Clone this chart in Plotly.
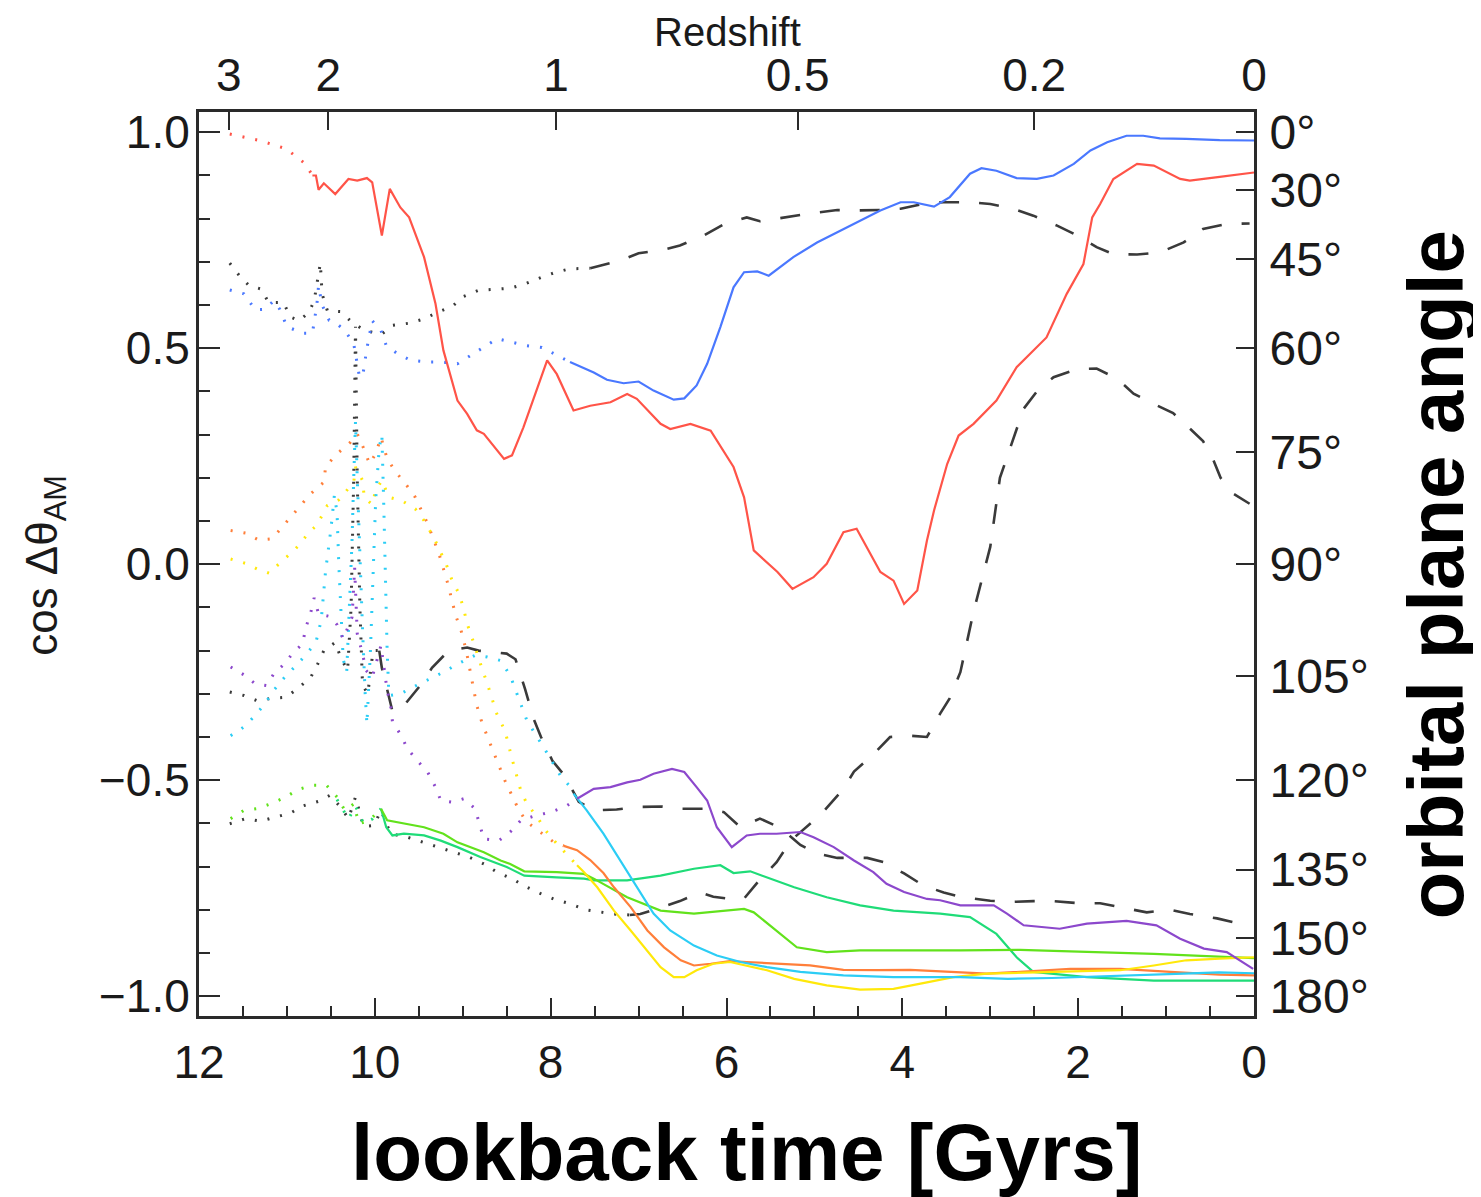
import numpy as np
import plotly.graph_objects as go

# ---------------- data (lookback time [Gyr], cos dtheta) ----------------
red = [(11.65, 0.996), (11.31, 0.981), (11.01, 0.962), (10.79, 0.927), (10.71, 0.90),
       (10.67, 0.90), (10.64, 0.867), (10.58, 0.882), (10.45, 0.857), (10.30, 0.892),
       (10.20, 0.888), (10.09, 0.894), (10.03, 0.884), (9.92, 0.761), (9.83, 0.869),
       (9.71, 0.826), (9.61, 0.803), (9.44, 0.711), (9.31, 0.603), (9.22, 0.495),
       (9.06, 0.379), (8.95, 0.348), (8.84, 0.31), (8.76, 0.302), (8.53, 0.244),
       (8.44, 0.252), (8.31, 0.317), (8.20, 0.379), (8.04, 0.472), (7.93, 0.44),
       (7.74, 0.356), (7.55, 0.367), (7.32, 0.375), (7.13, 0.394), (7.02, 0.383),
       (6.75, 0.325), (6.64, 0.313), (6.41, 0.325), (6.18, 0.309), (5.92, 0.225),
       (5.80, 0.155), (5.69, 0.032), (5.42, -0.018), (5.25, -0.057), (5.01, -0.03),
       (4.86, 0.001), (4.67, 0.074), (4.52, 0.082), (4.25, -0.018), (4.10, -0.038),
       (3.98, -0.092), (3.83, -0.061), (3.72, 0.055), (3.64, 0.124), (3.49, 0.232),
       (3.36, 0.298), (3.19, 0.325), (2.93, 0.379), (2.70, 0.456), (2.36, 0.525),
       (2.13, 0.626), (1.94, 0.695), (1.84, 0.803), (1.75, 0.834), (1.60, 0.892),
       (1.33, 0.927), (1.14, 0.923), (0.84, 0.892), (0.73, 0.888), (0.39, 0.897),
       (0.0, 0.907)]
red_switch = 10.71

blue = [(11.65, 0.635), (11.49, 0.626), (11.36, 0.589), (11.25, 0.59), (11.15, 0.61),
        (11.08, 0.59), (11.0, 0.55), (10.82, 0.535), (10.71, 0.535), (10.66, 0.60),
        (10.64, 0.645), (10.6, 0.6), (10.52, 0.565), (10.45, 0.56), (10.34, 0.541),
        (10.24, 0.51), (10.18, 0.44), (10.14, 0.433), (10.09, 0.5), (10.03, 0.564),
        (9.93, 0.541), (9.87, 0.506), (9.74, 0.487), (9.59, 0.472), (9.40, 0.468),
        (9.22, 0.468), (9.06, 0.464), (8.91, 0.483), (8.76, 0.502), (8.61, 0.522),
        (8.44, 0.514), (8.27, 0.506), (8.10, 0.502), (7.93, 0.483), (7.78, 0.468),
        (7.51, 0.444), (7.36, 0.427), (7.17, 0.419), (7.00, 0.423), (6.83, 0.402),
        (6.60, 0.381), (6.48, 0.384), (6.34, 0.414), (6.22, 0.464), (6.07, 0.549),
        (5.92, 0.641), (5.80, 0.676), (5.65, 0.678), (5.52, 0.668), (5.24, 0.711),
        (4.97, 0.745), (4.63, 0.780), (4.25, 0.819), (4.02, 0.838), (3.87, 0.838),
        (3.64, 0.828), (3.46, 0.85), (3.23, 0.904), (3.10, 0.917), (2.93, 0.911),
        (2.70, 0.894), (2.47, 0.892), (2.28, 0.90), (2.05, 0.927), (1.86, 0.958),
        (1.67, 0.977), (1.45, 0.992), (1.26, 0.992), (1.07, 0.986), (0.77, 0.985),
        (0.39, 0.982), (0.0, 0.981)]
blue_switch = 7.78

black_a = [(11.65, 0.697), (11.54, 0.668), (11.43, 0.645), (11.29, 0.637), (11.21, 0.606),
           (11.04, 0.606), (10.96, 0.572), (10.86, 0.564), (10.75, 0.583), (10.69, 0.61),
           (10.65, 0.66), (10.62, 0.697), (10.60, 0.626), (10.54, 0.587), (10.39, 0.585),
           (10.28, 0.564), (10.12, 0.541), (9.92, 0.533), (9.80, 0.553), (9.61, 0.558),
           (9.44, 0.568), (9.29, 0.583), (9.12, 0.597), (8.99, 0.62), (8.82, 0.634),
           (8.65, 0.637), (8.46, 0.639), (8.29, 0.649), (8.11, 0.664), (7.94, 0.676),
           (7.78, 0.684), (7.55, 0.685), (7.21, 0.703), (7.00, 0.72), (6.72, 0.728),
           (6.53, 0.738), (6.26, 0.761), (6.04, 0.786), (5.77, 0.803), (5.62, 0.794),
           (5.28, 0.805), (5.05, 0.812), (4.74, 0.82), (4.52, 0.819), (4.25, 0.82),
           (4.02, 0.823), (3.72, 0.836), (3.53, 0.838), (3.23, 0.838), (3.00, 0.834),
           (2.74, 0.823), (2.51, 0.807), (2.24, 0.784), (2.01, 0.761), (1.79, 0.734),
           (1.60, 0.718), (1.33, 0.717), (1.07, 0.722), (0.80, 0.745), (0.58, 0.776),
           (0.31, 0.788), (0.05, 0.789)]
black_a_switch = 7.55

black_b = [(11.65, -0.296), (11.49, -0.304), (11.34, -0.316), (11.15, -0.31), (11.01, -0.308),
           (10.86, -0.285), (10.73, -0.262), (10.65, -0.231), (10.58, -0.2), (10.45, -0.181),
           (10.39, -0.215), (10.31, -0.246), (10.27, -0.1), (10.24, 0.2), (10.22, 0.55),
           (10.20, 0.2), (10.17, -0.1), (10.14, -0.28), (10.08, -0.3), (10.02, -0.2),
           (9.95, -0.2), (9.92, -0.24), (9.86, -0.29), (9.80, -0.34), (9.72, -0.34),
           (9.60, -0.31), (9.48, -0.28), (9.35, -0.24), (9.16, -0.2), (8.95, -0.193),
           (8.82, -0.2), (8.69, -0.203), (8.50, -0.207), (8.40, -0.22), (8.34, -0.258),
           (8.29, -0.29), (8.19, -0.36), (8.11, -0.4), (7.98, -0.455), (7.84, -0.49),
           (7.68, -0.55), (7.51, -0.57), (7.25, -0.568), (7.02, -0.562), (6.74, -0.561),
           (6.53, -0.566), (6.22, -0.566), (6.03, -0.574), (5.84, -0.609), (5.62, -0.589),
           (5.39, -0.61), (5.16, -0.65), (4.97, -0.67), (4.74, -0.68), (4.40, -0.68),
           (4.21, -0.69), (3.98, -0.716), (3.76, -0.744), (3.53, -0.76), (3.34, -0.77),
           (3.00, -0.779), (2.77, -0.782), (2.51, -0.78), (2.28, -0.78), (1.98, -0.785),
           (1.75, -0.785), (1.45, -0.797), (1.22, -0.806), (0.95, -0.80), (0.73, -0.81),
           (0.42, -0.82), (0.21, -0.83), (0.05, -0.84)]
black_b_switch = 9.95

black_c = [(11.65, -0.601), (11.47, -0.589), (11.30, -0.595), (11.13, -0.586), (10.96, -0.576),
           (10.81, -0.559), (10.64, -0.549), (10.51, -0.535), (10.39, -0.562), (10.30, -0.589),
           (10.22, -0.539), (10.13, -0.607), (10.01, -0.605), (9.93, -0.57), (9.82, -0.624),
           (9.63, -0.632), (9.44, -0.644), (9.27, -0.655), (9.10, -0.667), (8.93, -0.678),
           (8.76, -0.694), (8.61, -0.713), (8.44, -0.728), (8.29, -0.746), (8.12, -0.762),
           (7.94, -0.777), (7.78, -0.786), (7.60, -0.80), (7.28, -0.81), (7.10, -0.812),
           (6.98, -0.81), (6.83, -0.80), (6.53, -0.78), (6.30, -0.76), (6.15, -0.77),
           (5.99, -0.774), (5.80, -0.774), (5.62, -0.73), (5.43, -0.69), (5.27, -0.64),
           (5.10, -0.61), (4.93, -0.58), (4.80, -0.55), (4.67, -0.52), (4.55, -0.48),
           (4.33, -0.44), (4.14, -0.40), (3.91, -0.397), (3.72, -0.40), (3.57, -0.346),
           (3.46, -0.31), (3.34, -0.25), (3.19, -0.11), (3.10, -0.04), (3.00, 0.04),
           (2.89, 0.20), (2.79, 0.26), (2.70, 0.317), (2.62, 0.36), (2.47, 0.40),
           (2.28, 0.433), (2.01, 0.452), (1.79, 0.453), (1.56, 0.43), (1.37, 0.395),
           (1.18, 0.375), (0.92, 0.35), (0.76, 0.32), (0.58, 0.285), (0.47, 0.245),
           (0.38, 0.20), (0.25, 0.165), (0.05, 0.14)]
black_c_switch = 7.10

purple = [(11.64, -0.238), (11.49, -0.256), (11.36, -0.277), (11.23, -0.281), (11.15, -0.254),
          (11.01, -0.227), (10.94, -0.207), (10.82, -0.184), (10.79, -0.15), (10.73, -0.113),
          (10.69, -0.078), (10.64, -0.115), (10.51, -0.121), (10.43, -0.14), (10.36, -0.173),
          (10.26, -0.123), (10.24, -0.053), (10.23, -0.007), (10.20, -0.161), (10.14, -0.207),
          (10.10, -0.246), (10.03, -0.262), (9.93, -0.188), (9.90, -0.231), (9.86, -0.292),
          (9.82, -0.327), (9.80, -0.364), (9.70, -0.397), (9.63, -0.427), (9.52, -0.454),
          (9.40, -0.481), (9.31, -0.516), (9.25, -0.547), (9.12, -0.551), (8.99, -0.543),
          (8.86, -0.566), (8.80, -0.605), (8.76, -0.636), (8.59, -0.64), (8.46, -0.62),
          (8.34, -0.593), (8.17, -0.582), (8.00, -0.574), (7.83, -0.561), (7.70, -0.543),
          (7.51, -0.52), (7.32, -0.516), (7.13, -0.505), (6.98, -0.499), (6.83, -0.485),
          (6.62, -0.474), (6.48, -0.481), (6.34, -0.516), (6.22, -0.547), (6.11, -0.609),
          (5.94, -0.655), (5.77, -0.628), (5.62, -0.624), (5.43, -0.624), (5.16, -0.62),
          (5.01, -0.632), (4.78, -0.655), (4.55, -0.686), (4.33, -0.713), (4.18, -0.74),
          (3.98, -0.759), (3.72, -0.775), (3.57, -0.778), (3.34, -0.79), (2.96, -0.79),
          (2.81, -0.809), (2.62, -0.836), (2.21, -0.844), (1.90, -0.832), (1.45, -0.826),
          (1.11, -0.836), (0.84, -0.867), (0.57, -0.89), (0.31, -0.898), (0.16, -0.917),
          (0.01, -0.937)]
purple_switch = 7.70

cyan = [(11.64, -0.397), (11.49, -0.377), (11.36, -0.35), (11.25, -0.323), (11.15, -0.292),
        (11.04, -0.265), (10.88, -0.231), (10.79, -0.211), (10.67, -0.181), (10.61, -0.13),
        (10.56, -0.015), (10.50, 0.08), (10.46, 0.16), (10.43, 0.12), (10.41, 0.0),
        (10.39, -0.1), (10.36, -0.22), (10.32, -0.25), (10.29, -0.1), (10.26, 0.05),
        (10.24, 0.2), (10.22, 0.33), (10.20, 0.2), (10.17, 0.0), (10.14, -0.15),
        (10.11, -0.3), (10.09, -0.37), (10.05, -0.2), (10.02, 0.0), (9.99, 0.15),
        (9.95, 0.27), (9.92, 0.30), (9.90, 0.15), (9.88, -0.05), (9.86, -0.2),
        (9.84, -0.304), (9.71, -0.30), (9.52, -0.28), (9.22, -0.25), (9.06, -0.231),
        (8.86, -0.211), (8.72, -0.215), (8.57, -0.223), (8.46, -0.258), (8.34, -0.323),
        (8.27, -0.362), (8.08, -0.424), (7.89, -0.489), (7.78, -0.515), (7.74, -0.531),
        (7.59, -0.57), (7.40, -0.624), (7.21, -0.686), (7.02, -0.748), (6.83, -0.809),
        (6.64, -0.848), (6.37, -0.883), (6.11, -0.906), (5.84, -0.921), (5.54, -0.933),
        (5.16, -0.944), (4.67, -0.952), (4.10, -0.956), (3.34, -0.956), (2.80, -0.96),
        (2.30, -0.958), (1.80, -0.955), (1.20, -0.952), (0.80, -0.948), (0.40, -0.945),
        (0.0, -0.947)]
cyan_switch = 7.74

yellow = [(11.64, 0.012), (11.47, 0.002), (11.34, -0.011), (11.20, -0.021), (11.07, 0.005),
          (10.94, 0.028), (10.85, 0.047), (10.75, 0.074), (10.66, 0.09), (10.54, 0.136),
          (10.41, 0.149), (10.24, 0.19), (10.22, 0.225), (10.14, 0.194), (10.12, 0.155),
          (10.03, 0.138), (9.99, 0.171), (9.92, 0.194), (9.84, 0.155), (9.69, 0.147),
          (9.54, 0.128), (9.44, 0.101), (9.33, 0.062), (9.19, 0.001), (9.12, -0.038),
          (9.04, -0.069), (8.99, -0.103), (8.95, -0.138), (8.89, -0.173), (8.84, -0.207),
          (8.78, -0.242), (8.72, -0.277), (8.67, -0.312), (8.61, -0.348), (8.52, -0.385),
          (8.44, -0.45), (8.34, -0.524), (8.27, -0.555), (8.15, -0.586), (8.06, -0.616),
          (7.93, -0.647), (7.81, -0.674), (7.70, -0.697), (7.62, -0.713), (7.47, -0.748),
          (7.28, -0.802), (7.09, -0.848), (6.90, -0.894), (6.75, -0.933), (6.60, -0.956),
          (6.48, -0.956), (6.34, -0.94), (6.15, -0.925), (5.96, -0.921), (5.77, -0.929),
          (5.54, -0.94), (5.23, -0.96), (4.86, -0.975), (4.48, -0.985), (4.10, -0.983),
          (3.72, -0.968), (3.42, -0.956), (3.04, -0.948), (2.09, -0.944), (1.52, -0.94),
          (1.14, -0.929), (0.77, -0.917), (0.39, -0.913), (0.0, -0.91)]
yellow_switch = 7.70

orange = [(11.64, 0.078), (11.47, 0.072), (11.32, 0.056), (11.17, 0.059), (11.05, 0.087),
          (10.94, 0.113), (10.85, 0.136), (10.73, 0.163), (10.58, 0.19), (10.56, 0.225),
          (10.45, 0.252), (10.28, 0.282), (10.20, 0.302), (10.12, 0.265), (10.06, 0.232),
          (9.99, 0.256), (9.93, 0.294), (9.86, 0.244), (9.76, 0.213), (9.65, 0.186),
          (9.54, 0.155), (9.40, 0.094), (9.27, 0.024), (9.17, -0.045), (9.08, -0.119),
          (9.02, -0.153), (8.96, -0.2), (8.91, -0.258), (8.87, -0.296), (8.84, -0.327),
          (8.78, -0.368), (8.65, -0.435), (8.52, -0.501), (8.36, -0.57), (8.27, -0.597),
          (8.12, -0.62), (7.96, -0.644), (7.85, -0.652), (7.70, -0.662), (7.55, -0.685),
          (7.40, -0.715), (7.28, -0.748), (7.09, -0.794), (6.90, -0.848), (6.71, -0.887),
          (6.52, -0.917), (6.37, -0.929), (6.18, -0.925), (5.96, -0.919), (5.77, -0.921),
          (5.43, -0.925), (5.05, -0.929), (4.67, -0.939), (4.29, -0.94), (3.91, -0.939),
          (3.34, -0.944), (3.04, -0.948), (2.09, -0.937), (1.52, -0.937), (0.95, -0.944),
          (0.39, -0.95), (0.0, -0.952)]
orange_switch = 7.85

lime = [(11.64, -0.589), (11.49, -0.57), (11.34, -0.566), (11.19, -0.555), (11.01, -0.539),
        (10.88, -0.522), (10.71, -0.512), (10.55, -0.512), (10.43, -0.539), (10.34, -0.57),
        (10.24, -0.555), (10.18, -0.601), (10.06, -0.593), (9.93, -0.566), (9.86, -0.593),
        (9.44, -0.609), (9.22, -0.624), (9.06, -0.644), (8.76, -0.667), (8.57, -0.686),
        (8.46, -0.694), (8.30, -0.711), (7.93, -0.713), (7.62, -0.717), (7.51, -0.728),
        (7.13, -0.771), (6.75, -0.802), (6.37, -0.809), (5.99, -0.802), (5.80, -0.798),
        (5.69, -0.806), (5.43, -0.848), (5.20, -0.887), (4.86, -0.898), (4.48, -0.894),
        (3.34, -0.894), (2.66, -0.893), (1.14, -0.902), (0.0, -0.912)]
lime_switch = 9.93

teal = [(10.43, -0.545), (10.30, -0.59), (10.22, -0.56), (10.13, -0.60), (10.03, -0.59),
        (9.93, -0.566), (9.87, -0.609), (9.80, -0.628), (9.67, -0.624), (9.44, -0.628),
        (9.25, -0.64), (9.06, -0.655), (8.80, -0.678), (8.50, -0.701), (8.30, -0.721),
        (7.93, -0.725), (7.62, -0.728), (7.51, -0.732), (7.13, -0.732), (6.75, -0.721),
        (6.37, -0.705), (6.07, -0.697), (5.92, -0.715), (5.73, -0.711), (5.54, -0.725),
        (5.23, -0.748), (4.86, -0.771), (4.48, -0.79), (4.10, -0.802), (3.57, -0.809),
        (3.23, -0.817), (2.93, -0.856), (2.70, -0.91), (2.51, -0.944), (1.90, -0.956),
        (1.14, -0.964), (0.0, -0.964)]
teal_switch = 9.93

# axis tick labels
x_ticks = [12, 10, 8, 6, 4, 2, 0]
x_minor = [11.5, 11, 10.5, 9.5, 9, 8.5, 7.5, 7, 6.5, 5.5, 5, 4.5, 3.5, 3, 2.5, 1.5, 1, 0.5]
z_labels = ["3", "2", "1", "0.5", "0.2", "0"]
z_lookback = [11.66, 10.53, 7.94, 5.19, 2.50, 0.0]
y_ticks = [-1.0, -0.5, 0.0, 0.5, 1.0]
y_ticktext = ["\u22121.0", "\u22120.5", "0.0", "0.5", "1.0"]
y_minor = [-0.9, -0.8, -0.7, -0.6, -0.4, -0.3, -0.2, -0.1, 0.1, 0.2, 0.3, 0.4, 0.6, 0.7, 0.8, 0.9]
angle_labels = [0, 30, 45, 60, 75, 90, 105, 120, 135, 150, 180]

# ---------------- styling ----------------
FONT = "Liberation Sans, Arial, Helvetica, sans-serif"
DOT = "2px,11px"
DASH = "20px,20px"
series = [
    (black_b, black_b_switch, "#3a3a3a", "dash"),
    (black_c, black_c_switch, "#3a3a3a", "dash"),
    (black_a, black_a_switch, "#3a3a3a", "dash"),
    (teal, teal_switch, "#1fdc78", "solid"),
    (lime, lime_switch, "#62e21c", "solid"),
    (orange, orange_switch, "#ff7f3a", "solid"),
    (yellow, yellow_switch, "#ffe80a", "solid"),
    (cyan, cyan_switch, "#2ccdf5", "solid"),
    (purple, purple_switch, "#8c48cc", "solid"),
    (blue, blue_switch, "#4a78ff", "solid"),
    (red, red_switch, "#ff5448", "solid"),
]

fig = go.Figure()
for pts, sw, col, style in series:
    early = [p for p in pts if p[0] >= sw]
    late = [p for p in pts if p[0] <= sw]
    fig.add_trace(go.Scatter(
        x=[p[0] for p in early], y=[p[1] for p in early], mode="lines",
        line=dict(color=col, width=3, dash=DOT), showlegend=False, hoverinfo="skip"))
    if style == "dash":
        ln = dict(color=col, width=2.6, dash=DASH)
    else:
        ln = dict(color=col, width=2.2)
    fig.add_trace(go.Scatter(
        x=[p[0] for p in late], y=[p[1] for p in late], mode="lines",
        line=ln, showlegend=False, hoverinfo="skip"))

# invisible trace to anchor secondary axes
fig.add_trace(go.Scatter(x=[6], y=[0], xaxis="x2", yaxis="y2", mode="markers",
                         marker=dict(opacity=0), showlegend=False, hoverinfo="skip"))

XR = [12, 0]
YR = [-1.046, 1.047]
axcol = "#2a2a2a"
tickfont = dict(family=FONT, size=46, color="#1a1a1a")

fig.update_layout(
    width=1473, height=1189,
    margin=dict(l=191, r=227, t=104, b=181),
    paper_bgcolor="white", plot_bgcolor="white",
    xaxis=dict(range=XR, showgrid=False, zeroline=False, showline=True, linewidth=3,
               linecolor=axcol, ticks="inside", ticklen=18, tickwidth=2, tickcolor=axcol,
               tickmode="array", tickvals=x_ticks, ticktext=[str(v) for v in x_ticks],
               tickfont=tickfont, ticklabelstandoff=4,
               minor=dict(tickvals=x_minor, ticks="inside", ticklen=10, tickwidth=2,
                          tickcolor=axcol, showgrid=False)),
    xaxis2=dict(range=XR, overlaying="x", side="top", showgrid=False, zeroline=False,
                showline=True, linewidth=3, linecolor=axcol, ticks="inside", ticklen=18,
                tickwidth=2, tickcolor=axcol, tickmode="array", tickvals=z_lookback,
                ticktext=z_labels, tickfont=tickfont, ticklabelstandoff=0),
    yaxis=dict(range=YR, showgrid=False, zeroline=False, showline=True, linewidth=3,
               linecolor=axcol, ticks="inside", ticklen=21, tickwidth=2, tickcolor=axcol,
               tickmode="array", tickvals=y_ticks, ticktext=y_ticktext,
               tickfont=tickfont, ticklabelstandoff=-3,
               minor=dict(tickvals=y_minor, ticks="inside", ticklen=11, tickwidth=2,
                          tickcolor=axcol, showgrid=False)),
    yaxis2=dict(range=YR, overlaying="y", side="right", showgrid=False, zeroline=False,
                showline=True, linewidth=3, linecolor=axcol, ticks="inside", ticklen=18,
                tickwidth=2, tickcolor=axcol, tickmode="array",
                tickvals=list(np.cos(np.radians(angle_labels))),
                ticktext=[f"{a}\u00b0" for a in angle_labels],
                tickfont=dict(family=FONT, size=48, color="#1a1a1a"), ticklabelstandoff=3),
)

fig.add_annotation(text="Redshift", xref="paper", yref="paper", x=0.5005, y=1.088,
                   showarrow=False, xanchor="center", yanchor="middle",
                   font=dict(family=FONT, size=40, color="#1a1a1a"))
fig.add_annotation(text="cos \u0394\u03b8<sub>AM</sub>", xref="paper", yref="paper",
                   x=-0.146, y=0.499, textangle=-90, showarrow=False,
                   xanchor="center", yanchor="middle",
                   font=dict(family=FONT, size=44, color="#1a1a1a"))
fig.add_annotation(text="<b>orbital plane angle</b>", xref="paper", yref="paper",
                   x=1.172, y=0.488, textangle=-90, showarrow=False,
                   xanchor="center", yanchor="middle",
                   font=dict(family=FONT, size=78, color="#000000"))
fig.add_annotation(text="<b>lookback time [Gyrs]</b>", xref="paper", yref="paper",
                   x=0.5185, y=-0.1515, showarrow=False, xanchor="center", yanchor="middle",
                   font=dict(family=FONT, size=80, color="#000000"))

fig.write_html("out.html")
